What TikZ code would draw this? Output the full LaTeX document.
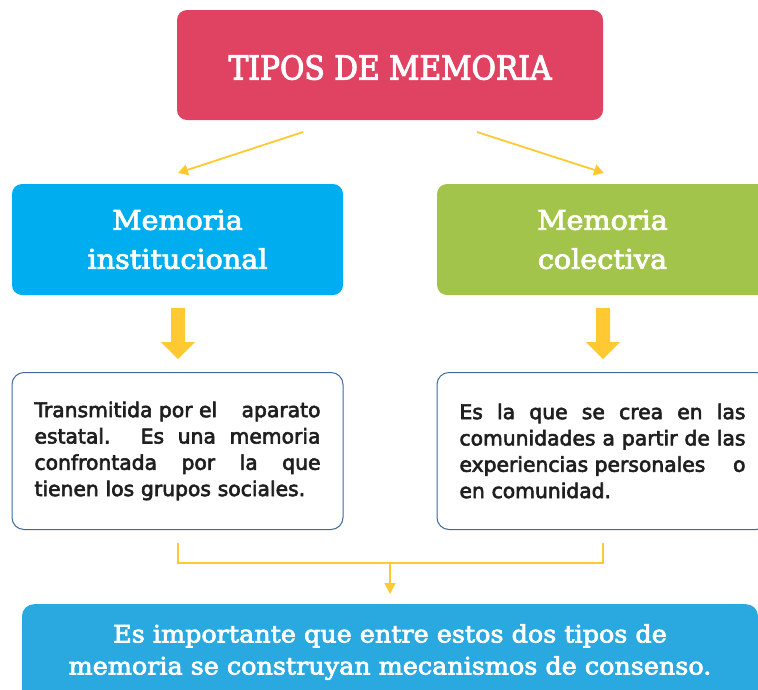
\documentclass[tikz,border=0pt]{standalone}
\usepackage{fontspec}
\setmainfont{DejaVu Serif}[FakeBold=3]
\newfontfamily\titlefont{DejaVu Serif}[FakeBold=3,FakeStretch=0.9]
\newfontfamily\memfont{DejaVu Serif}[FakeBold=3,FakeStretch=1.06]
\newfontfamily\bodyfont{DejaVu Sans}[FakeBold=3]
\newfontfamily\condfont{DejaVu Serif}[FakeBold=3,FakeStretch=1.06]
\usetikzlibrary{arrows.meta}
\definecolor{titlered}{HTML}{E04262}
\definecolor{instblue}{HTML}{00AEEF}
\definecolor{colgreen}{HTML}{A3C44A}
\definecolor{arrowyellow}{HTML}{FFC933}
\definecolor{bordercol}{HTML}{3F6B9A}
\definecolor{botblue}{HTML}{2AA9E0}
\definecolor{textcol}{HTML}{1F1F1F}
\newcommand{\jline}[1]{\makebox[286pt][s]{\spaceskip=0pt\xspaceskip=0pt\relax #1}}
\tikzset{
  colbox/.style={rounded corners=10pt, minimum width=331pt, minimum height=111pt,
    inner sep=0pt, text=white, align=center, font=\memfont\fontsize{27}{39}\selectfont},
  whitebox/.style={draw=bordercol, line width=1pt, rounded corners=12pt, fill=white,
    minimum width=331pt, minimum height=157pt, text width=286pt, align=left,
    inner sep=0pt, text=textcol, font=\bodyfont\fontsize{20.3}{26.3}\selectfont},
  thinarrow/.style={draw=arrowyellow, line width=1.8pt, -{Triangle[length=10pt,width=11pt]}},
  bracket/.style={draw=arrowyellow, line width=1.8pt},
  fatarrow/.style={fill=arrowyellow}
}
\begin{document}
\begin{tikzpicture}[x=1pt,y=-1pt]
\useasboundingbox (0,0) rectangle (758,689);
\clip (0,0) rectangle (758,689);

\node[colbox, fill=titlered, minimum width=426pt, minimum height=110pt] (title) at (390,65) {};
\node[text=white, inner sep=0pt, font=\titlefont\fontsize{33}{36}\selectfont]
  (titletxt) at (390,67.5) {TIPOS DE MEMORIA};

\node[colbox, fill=instblue] (inst) at (177.5,239.5) {Memoria\\institucional};
\node[colbox, fill=colgreen] (col) at (602.5,239.5) {Memoria\\colectiva};

\coordinate (tl) at (303,132);
\coordinate (tr) at (477,132);
\coordinate (il) at (178,173);
\coordinate (ir) at (604,173);
\draw[thinarrow] (tl) -- (il);
\draw[thinarrow] (tr) -- (ir);

\begin{scope}[shift={(178,308)}]
  \fill[fatarrow] (-7,0) -- (7,0) -- (7,34) -- (17,34) -- (0,51) -- (-17,34) -- (-7,34) -- cycle;
\end{scope}
\begin{scope}[shift={(603,308)}]
  \fill[fatarrow] (-7,0) -- (7,0) -- (7,34) -- (17,34) -- (0,51) -- (-17,34) -- (-7,34) -- cycle;
\end{scope}

\node[whitebox] (wl) at (177.5,451) {%
\jline{Transmitida por el\hfill aparato}\\
\jline{estatal. Es una memoria}\\
\jline{confrontada por la que}\\
tienen los grupos sociales.};

\node[whitebox] (wr) at (602.5,451) {%
\jline{Es la que se crea en las}\\
\jline{comunidades a partir de las}\\
\jline{experiencias personales\hfill o}\\
en comunidad.};

\coordinate (bl) at (178,543);
\coordinate (br) at (603,543);
\coordinate (bml) at (178,563);
\coordinate (bmr) at (603,563);
\coordinate (bm) at (390,563);
\coordinate (bt) at (390,594);
\draw[bracket] (bl) -- (bml) -- (bmr) -- (br);
\draw[bracket, -{Triangle[length=11pt,width=11pt]}] (bm) -- (bt);

\node[fill=botblue, rounded corners=12pt, minimum width=736pt, minimum height=110pt,
      inner sep=0pt, anchor=north] (bot) at (390,604) {};
\node[text=white, align=center, inner sep=0pt,
      font=\condfont\fontsize{24}{32}\selectfont] (bottxt) at (390,652)
  {Es importante que entre estos dos tipos de\\memoria se construyan mecanismos de consenso.};
\end{tikzpicture}
\end{document}
